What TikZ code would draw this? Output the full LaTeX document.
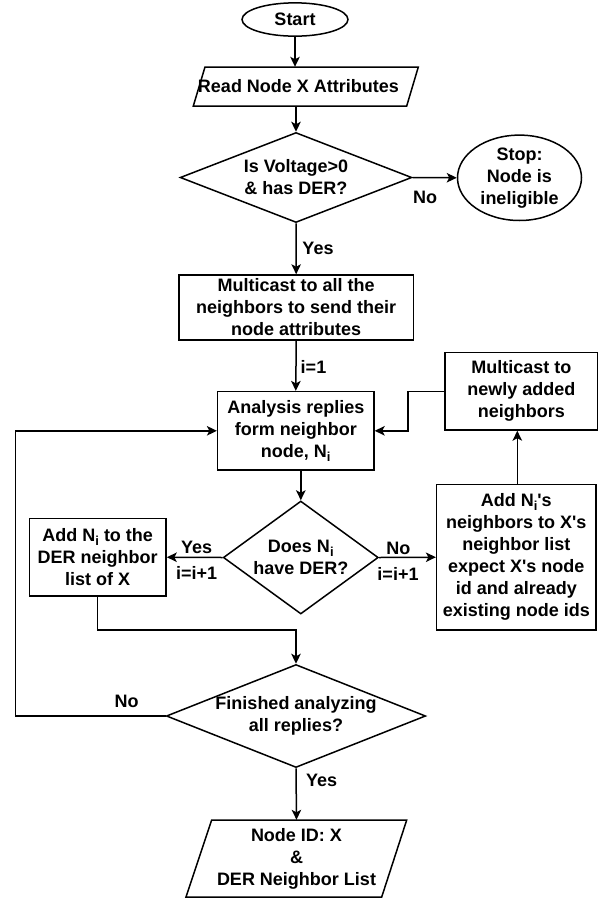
\documentclass[tikz,border=0pt]{standalone}
\usepackage{fontspec}
\setmainfont{Liberation Sans}
\usetikzlibrary{shapes.geometric,arrows.meta}
\newcommand\myNi{N\raisebox{-4pt}{\fontsize{13}{13}\selectfont i}}
\newcommand\myq{\textquotesingle}
\begin{document}
\begin{tikzpicture}[x=1pt,y=-1pt,
  every node/.style={font=\fontsize{18}{22}\selectfont\bfseries, align=center, inner sep=0pt},
  lw/.style={line width=1.5pt, line join=miter},
  arr/.style={lw, -{Stealth[length=10pt,width=9.5pt,inset=2.5pt]}},
  box/.style={draw, lw, rectangle},
  oval/.style={draw, lw, ellipse},
  dia/.style={draw, lw, diamond},
  txt/.style={draw=none}
]
\fill[white] (0,0) rectangle (602,898);
\useasboundingbox (0,0) rectangle (602,898);

% nodes
\node[oval, minimum width=106, minimum height=33.3] (start) at (295,19.5) {Start};
\node[txt, minimum height=39] (read) at (298.5,86.5) {Read Node X Attributes};
\draw[lw] (205,67) -- (418.3,67) -- (406.7,106) -- (193.3,106) -- cycle;
\node[dia, aspect=2.58, minimum width=231.7, minimum height=90] (d1) at (296,177.5) {Is Voltage>0\\\& has DER?};
\node[oval, minimum width=124, minimum height=78] (stop) at (519.5,177.8) {Stop:\\Node is\\ineligible};
\node[box, minimum width=234.3, minimum height=65] (mc) at (296.2,307.5) {Multicast to all the\\neighbors to send their\\node attributes};
\node[box, minimum width=156.3, minimum height=78.3] (an) at (295.8,430.8) {Analysis replies\\form neighbor\\node, \myNi};
\node[box, minimum width=152.7, minimum height=77.3] (nw) at (521.3,391.3) {Multicast to\\newly added\\neighbors};
\node[dia, aspect=1.37, minimum width=155, minimum height=113] (d2) at (300.8,557.5) {Does \myNi\\have DER?};
\node[box, minimum width=136.7, minimum height=77.7] (ad) at (97.7,557.2) {Add \myNi{} to the\\DER neighbor\\list of X};
\node[box, minimum width=159.3, minimum height=145.7] (an2) at (516.3,557.2) {Add \myNi\myq s\\neighbors to X\myq s\\neighbor list\\expect X\myq s node\\id and already\\existing node ids};
\node[dia, aspect=2.51, minimum width=259.3, minimum height=103] (d3) at (296,716) {Finished analyzing\\all replies?};
\node[txt, minimum height=77] (fin) at (296.5,858.5) {Node ID: X\\\&\\DER Neighbor List};
\draw[lw] (211.7,820) -- (406.7,820) -- (381.7,897) -- (186,897) -- cycle;

% labels
\node (l1) at (425,197.3) {No};
\node (l2) at (318,248.3) {Yes};
\node (l3) at (313.5,366.7) {i=1};
\node (l4) at (196.7,547.7) {Yes};
\node (l5) at (196.7,572.7) {i=i+1};
\node (l6) at (398.3,548.3) {No};
\node (l7) at (398,574) {i=i+1};
\node (l8) at (126.7,701.5) {No};
\node (l9) at (321.7,780.7) {Yes};

% connectors
\coordinate (j1) at (296,630);
\draw[arr] (start.south) -- (start.south |- read.north);
\draw[arr] (d1.north |- read.south) -- (d1.north);
\draw[arr] (d1.east) -- (stop.west);
\draw[arr] (d1.south) -- (mc.north);
\draw[arr] (mc.south) -- (an.north);
\draw[arr] (d2.north |- an.south) -- (d2.north);
\draw[arr] (d2.west) -- (ad.east);
\draw[arr] (d2.east) -- (an2.west);
\draw[arr] (an2.north -| 517.3,0) -- (517.3,0 |- nw.south);
\draw[arr] (nw.west) -- ++(-36,0) |- (an.east);
\draw[arr] (ad.south) |- (j1) -- (d3.north);
\draw[arr] (d3.west) -- (15.7,716) |- (an.west);
\draw[arr] (d3.south) -- (fin.north);
\end{tikzpicture}
\end{document}
